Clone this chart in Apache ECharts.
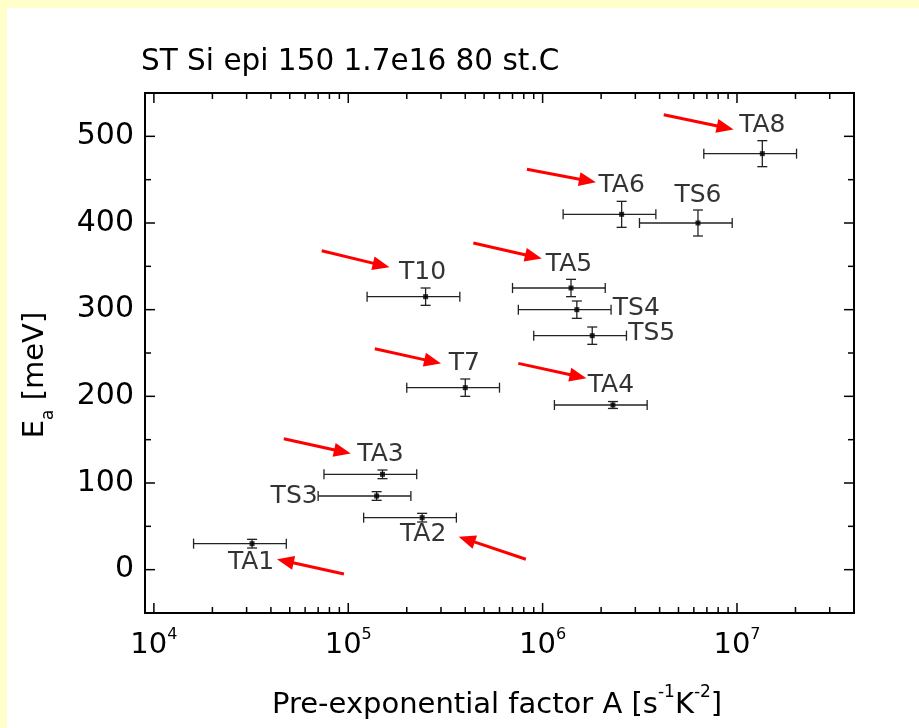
<!DOCTYPE html>
<html><head><meta charset="utf-8">
<script src="https://cdn.jsdelivr.net/npm/echarts@6/dist/echarts.min.js"></script>
<style>
html,body{margin:0;padding:0;background:#FFFFCC;}
#panel{position:absolute;left:7px;top:8px;width:912px;height:720px;background:#ffffff;}
#c{position:absolute;left:0;top:0;width:919px;height:728px;}
</style>
</head><body><div id="panel"></div><div id="c"></div>
<script>
// ---- data ----
const trapNames = ['TA1','TA2','TS3','TA3','T7','TA4','TS5','TS4','T10','TA5','TA6','TS6','TA8'];
const preFactor = [3.2e4, 2.4e5, 1.4e5, 1.5e5, 4.0e5, 2.3e6, 1.8e6, 1.5e6, 2.5e5, 1.4e6, 2.55e6, 6.3e6, 1.35e7];
const activationEnergy = [30, 60, 85, 110, 210, 190, 270, 300, 315, 325, 410, 400, 480];
const activationErr = [5, 5, 5, 5, 10, 4, 10, 10, 10, 10, 15, 15, 15];
const preFactorRelErr = 0.5;
const xDecades = [4, 5, 6, 7];
const yTickLabels = [0, 100, 200, 300, 400, 500];
// red annotation arrows: start and tip in data units [A, Ea]
const arrowStart = [[7.3e4, 368], [4.4e5, 377], [1.37e5, 255], [7.5e5, 238], [4.66e4, 151], [9.5e4, -5], [8.2e5, 12], [4.2e6, 525], [8.3e5, 462]];
const arrowEnd   = [[1.63e5, 349], [9.9e5, 359], [3.0e5, 238], [1.68e6, 221], [1.03e5, 134], [4.3e4, 12], [3.7e5, 38], [9.6e6, 508], [1.88e6, 447]];

// ---- layout / style ----
const FONT = 'DejaVu Sans';
const X_MIN = 9000, X_MAX = 4e7, Y_MIN = -50, Y_MAX = 550;
const labelPlacement = {
  TA1: {offset: [-1, 18.5]}, TA2: {offset: [1, 17]}, TS3: {offset: [-59, 0], align: 'right'},
  TA3: {offset: [-2, -20]}, T7: {offset: [-1, -24]}, TA4: {offset: [-2, -20]},
  TS5: {offset: [36, -2], align: 'left'}, TS4: {offset: [36, -1.5], align: 'left'},
  T10: {offset: [-3, -24]}, TA5: {offset: [-2, -24]}, TA6: {offset: [0, -29]},
  TS6: {offset: [0, -27.5]}, TA8: {offset: [0, -28]}
};

const xTicks = [];
for (let d = 3; d <= 7; d++) {
  for (let k = 1; k <= 9; k++) {
    const v = k * Math.pow(10, d);
    if (v > X_MIN && v < X_MAX) xTicks.push([v, Y_MIN, k === 1 ? 1 : 0]);
  }
}
const yTicks = [];
for (let v = Y_MIN + 50; v < Y_MAX; v += 50) yTicks.push([X_MIN, v, v % 100 === 0 ? 1 : 0]);

const chart = echarts.init(document.getElementById('c'), null, {renderer: 'canvas'});

const tickStyle = {stroke: '#000', lineWidth: 1.5};

const option = {
  animation: false,
  backgroundColor: 'transparent',
  title: {
    text: 'ST Si epi 150 1.7e16 80 st.C', left: 141, top: 47, padding: 0,
    textStyle: {fontSize: 29.5, fontWeight: 'normal', fontFamily: FONT, color: '#000'}
  },
  grid: {left: 145, top: 93, right: 65, bottom: 115, show: true, borderColor: '#000', borderWidth: 2, backgroundColor: 'transparent'},
  xAxis: {
    type: 'log', logBase: 10, min: X_MIN, max: X_MAX,
    axisLine: {show: true, onZero: false, lineStyle: {color: '#000', width: 2}},
    axisTick: {show: false}, splitLine: {show: false}, minorTick: {show: false},
    axisLabel: {
      margin: 14,
      formatter: function (v) {
        const l = Math.log10(v), r = Math.round(l);
        return (Math.abs(l - r) < 1e-6 && xDecades.indexOf(r) >= 0) ? '{b|10}{s|' + r + '}' : '';
      },
      rich: {
        b: {fontSize: 29, lineHeight: 33, verticalAlign: 'bottom', fontFamily: FONT, color: '#000'},
        s: {fontSize: 16, lineHeight: 16, verticalAlign: 'top', fontFamily: FONT, color: '#000'}
      }
    }
  },
  yAxis: {
    type: 'value', min: Y_MIN, max: Y_MAX, interval: 50,
    axisLine: {show: true, onZero: false, lineStyle: {color: '#000', width: 2}},
    axisTick: {show: false}, splitLine: {show: false},
    axisLabel: {
      margin: 11, fontSize: 30, fontFamily: FONT, color: '#000',
      formatter: function (v) { return yTickLabels.indexOf(v) >= 0 ? String(v) : ''; }
    }
  },
  graphic: [
    {
      type: 'text', x: 272, y: 702, silent: true,
      style: {
        text: '{b|Pre-exponential factor A [s}{s|-1}{b|K}{s|-2}{b|]}',
        align: 'left', verticalAlign: 'middle',
        rich: {
          b: {fontSize: 29, lineHeight: 36, verticalAlign: 'bottom', fontFamily: FONT, fill: '#000'},
          s: {fontSize: 17, lineHeight: 17, verticalAlign: 'top', fontFamily: FONT, fill: '#000'}
        }
      }
    },
    {
      type: 'text', x: 39, y: 375, rotation: Math.PI / 2, silent: true,
      style: {
        text: '{b|E}{u|a}{b| [meV]}',
        align: 'center', verticalAlign: 'middle',
        rich: {
          b: {fontSize: 29, lineHeight: 36, verticalAlign: 'top', fontFamily: FONT, fill: '#000'},
          u: {fontSize: 17, lineHeight: 17, verticalAlign: 'bottom', fontFamily: FONT, fill: '#000'}
        }
      }
    }
  ],
  series: [
    { // x ticks on bottom and top axes
      type: 'custom', silent: true, clip: false, z: 5,
      data: xTicks, encode: {x: 0, y: 1},
      renderItem: function (params, api) {
        const cs = params.coordSys;
        const x = api.coord([api.value(0), api.value(1)])[0];
        const len = api.value(2) ? 10 : 6;
        return {type: 'group', children: [
          {type: 'line', shape: {x1: x, y1: cs.y + cs.height, x2: x, y2: cs.y + cs.height - len}, style: tickStyle},
          {type: 'line', shape: {x1: x, y1: cs.y, x2: x, y2: cs.y + len}, style: tickStyle}
        ]};
      }
    },
    { // y ticks on left and right axes
      type: 'custom', silent: true, clip: false, z: 5,
      data: yTicks, encode: {x: 0, y: 1},
      renderItem: function (params, api) {
        const cs = params.coordSys;
        const y = api.coord([api.value(0), api.value(1)])[1];
        const len = api.value(2) ? 10 : 6;
        return {type: 'group', children: [
          {type: 'line', shape: {x1: cs.x, y1: y, x2: cs.x + len, y2: y}, style: tickStyle},
          {type: 'line', shape: {x1: cs.x + cs.width, y1: y, x2: cs.x + cs.width - len, y2: y}, style: tickStyle}
        ]};
      }
    },
    { // error bars
      type: 'custom', silent: true, z: 3,
      data: preFactor.map(function (a, i) {
        return [a, activationEnergy[i], a * (1 - preFactorRelErr), a * (1 + preFactorRelErr),
                activationEnergy[i] - activationErr[i], activationEnergy[i] + activationErr[i]];
      }),
      encode: {x: [0, 2, 3], y: [1, 4, 5]},
      renderItem: function (params, api) {
        const xl = api.coord([api.value(2), api.value(1)]);
        const xr = api.coord([api.value(3), api.value(1)]);
        const yb = api.coord([api.value(0), api.value(4)]);
        const yt = api.coord([api.value(0), api.value(5)]);
        const st = {stroke: '#222', lineWidth: 1.3};
        const c = 5;
        return {type: 'group', children: [
          {type: 'line', shape: {x1: xl[0], y1: xl[1], x2: xr[0], y2: xr[1]}, style: st},
          {type: 'line', shape: {x1: xl[0], y1: xl[1] - c, x2: xl[0], y2: xl[1] + c}, style: st},
          {type: 'line', shape: {x1: xr[0], y1: xr[1] - c, x2: xr[0], y2: xr[1] + c}, style: st},
          {type: 'line', shape: {x1: yb[0], y1: yb[1], x2: yt[0], y2: yt[1]}, style: st},
          {type: 'line', shape: {x1: yb[0] - c, y1: yb[1], x2: yb[0] + c, y2: yb[1]}, style: st},
          {type: 'line', shape: {x1: yt[0] - c, y1: yt[1], x2: yt[0] + c, y2: yt[1]}, style: st}
        ]};
      }
    },
    { // points with labels
      type: 'scatter', z: 4, symbol: 'rect', symbolSize: 5,
      itemStyle: {color: '#000'},
      data: preFactor.map(function (a, i) {
        const p = labelPlacement[trapNames[i]] || {offset: [0, -24]};
        return {
          name: trapNames[i], value: [a, activationEnergy[i]],
          label: {show: true, position: 'inside', offset: p.offset, align: p.align || 'center', verticalAlign: 'middle'}
        };
      }),
      label: {show: true, formatter: '{b}', fontSize: 25, fontFamily: FONT, color: '#000'}
    },
    { // red arrows
      type: 'custom', silent: true, z: 6,
      data: arrowStart.map(function (s, i) { return [s[0], s[1], arrowEnd[i][0], arrowEnd[i][1]]; }),
      encode: {x: [0, 2], y: [1, 3]},
      renderItem: function (params, api) {
        const p1 = api.coord([api.value(0), api.value(1)]);
        const p2 = api.coord([api.value(2), api.value(3)]);
        const dx = p2[0] - p1[0], dy = p2[1] - p1[1];
        const L = Math.sqrt(dx * dx + dy * dy);
        const ux = dx / L, uy = dy / L, px = -uy, py = ux;
        const head = 17, hw = 7;
        const bx = p2[0] - ux * head, by = p2[1] - uy * head;
        return {type: 'group', children: [
          {type: 'line', shape: {x1: p1[0], y1: p1[1], x2: bx + ux * 3, y2: by + uy * 3}, style: {stroke: '#FF0000', lineWidth: 3}},
          {type: 'polygon', shape: {points: [[p2[0], p2[1]], [bx + px * hw, by + py * hw], [bx - px * hw, by - py * hw]]}, style: {fill: '#FF0000'}}
        ]};
      }
    }
  ]
};
chart.setOption(option);
</script>
</body></html>
